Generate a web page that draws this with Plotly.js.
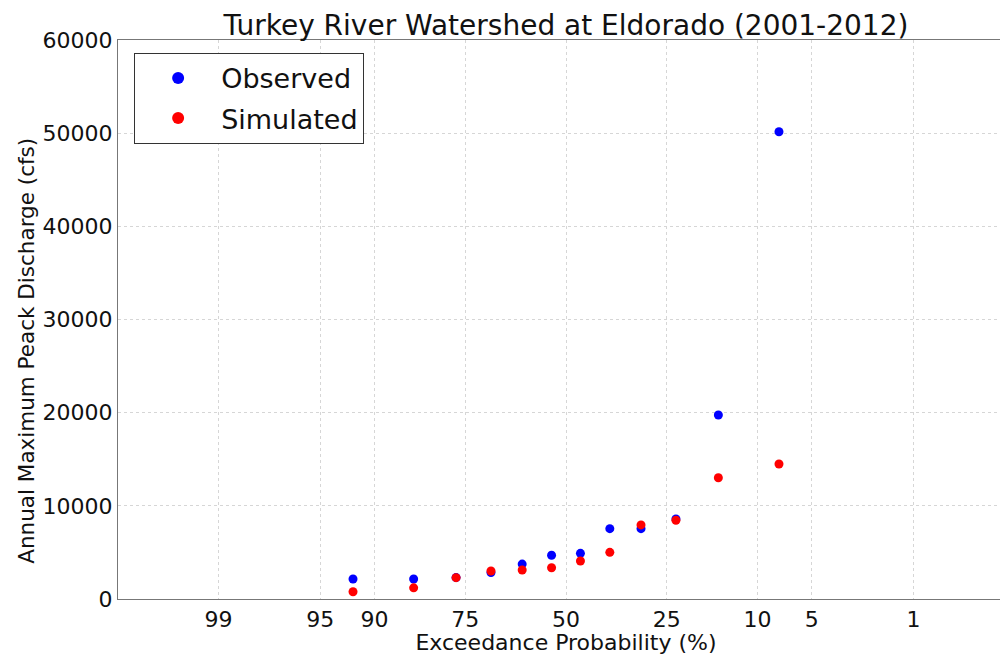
<!DOCTYPE html>
<html>
<head>
<meta charset="utf-8">
<script src="https://cdn.plot.ly/plotly-3.0.1.min.js"></script>
<style>
html, body { margin:0; padding:0; overflow:hidden; background:#fff; width:1000px; height:655px; }
#chart { width:1014px; height:655px; }
</style>
</head>
<body>
<div id="chart"></div>
<script>
// Exceedance probabilities (%) of the 12 annual peaks (2001-2012), ranked
const exceedancePct = [92.31, 84.62, 76.92, 69.23, 61.54, 53.85, 46.15, 38.46, 30.77, 23.08, 15.38, 7.69];
// Observed annual maximum peak discharge (cfs)
const observedCfs = [2150, 2150, 2300, 2850, 3750, 4700, 4900, 7550, 7550, 8600, 19750, 50150];
// Simulated annual maximum peak discharge (cfs)
const simulatedCfs = [780, 1200, 2290, 3000, 3110, 3360, 4080, 5010, 7950, 8450, 13020, 14490];
// Probability-axis tick labels (%)
const tickPct = [99, 95, 90, 75, 50, 25, 10, 5, 1];
const yTicks = [0, 10000, 20000, 30000, 40000, 50000, 60000];

// Inverse standard normal CDF (Acklam) -> normal probability axis scale
function normInv(p) {
  const a = [-3.969683028665376e+01, 2.209460984245205e+02, -2.759285104469687e+02, 1.383577518672690e+02, -3.066479806614716e+01, 2.506628277459239e+00];
  const b = [-5.447609879822406e+01, 1.615858368580409e+02, -1.556989798598866e+02, 6.680131188771972e+01, -1.328068155288572e+01];
  const c = [-7.784894002430293e-03, -3.223964580411365e-01, -2.400758277161838e+00, -2.549732539343734e+00, 4.374664141464968e+00, 2.938163982698783e+00];
  const d = [7.784695709041462e-03, 3.224671290700398e-01, 2.445134137142996e+00, 3.754408661907416e+00];
  const pl = 0.02425, ph = 1 - pl;
  let q, r;
  if (p < pl) {
    q = Math.sqrt(-2 * Math.log(p));
    return (((((c[0]*q+c[1])*q+c[2])*q+c[3])*q+c[4])*q+c[5]) / ((((d[0]*q+d[1])*q+d[2])*q+d[3])*q+1);
  } else if (p <= ph) {
    q = p - 0.5; r = q*q;
    return (((((a[0]*r+a[1])*r+a[2])*r+a[3])*r+a[4])*r+a[5])*q / (((((b[0]*r+b[1])*r+b[2])*r+b[3])*r+b[4])*r+1);
  } else {
    q = Math.sqrt(-2 * Math.log(1 - p));
    return -(((((c[0]*q+c[1])*q+c[2])*q+c[3])*q+c[4])*q+c[5]) / ((((d[0]*q+d[1])*q+d[2])*q+d[3])*q+1);
  }
}
const probScale = pct => -normInv(pct / 100);

const xData = exceedancePct.map(probScale);
const font = 'DejaVu Sans, sans-serif';
const ink = '#111111';

const traces = [
  {
    x: xData, y: observedCfs, type: 'scatter', mode: 'markers', name: 'Observed',
    legendgroup: 'obs',
    marker: { color: '#0000ff', size: 9 }
  },
  {
    x: xData, y: simulatedCfs, type: 'scatter', mode: 'markers', name: 'Simulated',
    legendgroup: 'sim',
    marker: { color: '#ff0000', size: 9 }
  }
];

const layout = {
  width: 1014, height: 655,
  margin: { l: 118, r: 0, t: 40, b: 56 },
  paper_bgcolor: '#ffffff', plot_bgcolor: '#ffffff',
  font: { family: font, color: ink },
  title: {
    text: 'Turkey River Watershed at Eldorado (2001-2012)',
    font: { family: font, size: 28, color: ink },
    xref: 'paper', x: 0.5, xanchor: 'center',
    yref: 'container', y: 0.962, yanchor: 'middle'
  },
  xaxis: {
    range: [-3, 3],
    tickvals: tickPct.map(probScale),
    ticktext: tickPct.map(String),
    tickfont: { family: font, size: 22, color: ink },
    showgrid: true, gridcolor: '#d6d6d6', griddash: 'dot', gridwidth: 1,
    zeroline: false,
    showline: true, linecolor: '#777777', linewidth: 1.2, mirror: true,
    ticks: '',
    title: { text: 'Exceedance Probability (%)', font: { family: font, size: 22, color: ink }, standoff: 2 }
  },
  yaxis: {
    range: [0, 60000],
    tickvals: yTicks,
    ticktext: yTicks.map(String),
    tickfont: { family: font, size: 22, color: ink },
    showgrid: true, gridcolor: '#d6d6d6', griddash: 'dot', gridwidth: 1,
    zeroline: false,
    showline: true, linecolor: '#777777', linewidth: 1.2, mirror: false,
    ticks: ''
  },
  annotations: [
    {
      text: 'Annual Maximum Peack Discharge (cfs)',
      textangle: -90,
      xref: 'paper', yref: 'paper',
      x: -0.103, y: 0.4436, xanchor: 'center', yanchor: 'middle',
      showarrow: false,
      font: { family: font, size: 21.5, color: ink }
    }
  ],
  showlegend: true,
  legend: {
    x: 0.018, y: 0.977, xanchor: 'left', yanchor: 'top',
    bgcolor: '#ffffff', bordercolor: '#333333', borderwidth: 1,
    font: { family: font, size: 27, color: ink },
    traceorder: 'grouped', tracegroupgap: 2,
    itemsizing: 'constant', itemwidth: 76
  }
};

Plotly.newPlot('chart', traces, layout, { displayModeBar: false, staticPlot: true });
</script>
</body>
</html>
